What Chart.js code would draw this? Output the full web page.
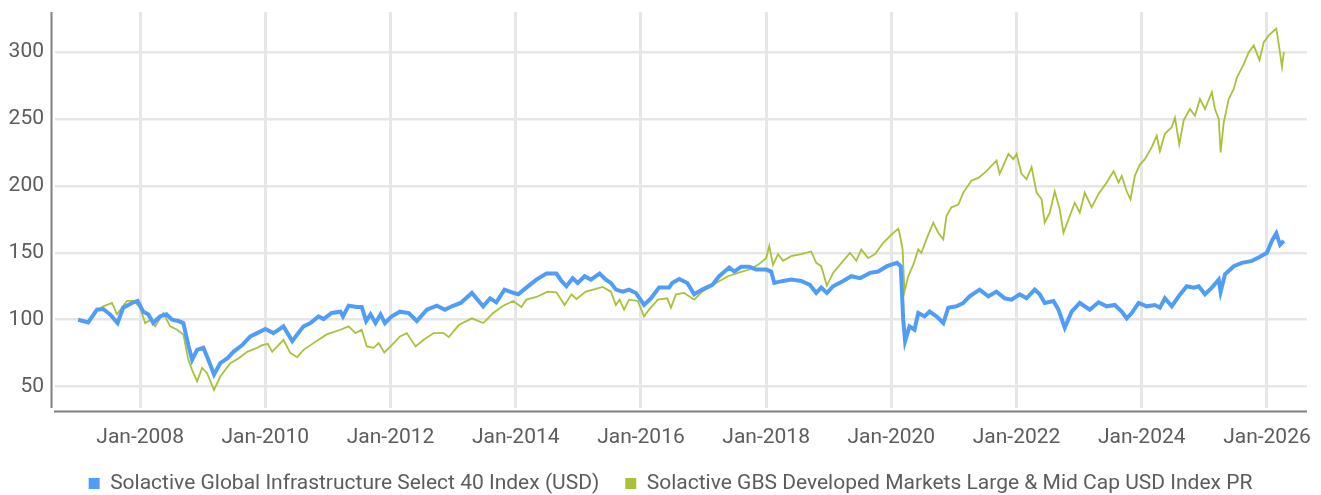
<!DOCTYPE html>
<html>
<head>
<meta charset="utf-8">
<script src="https://cdn.jsdelivr.net/npm/chart.js@4.4.1/dist/chart.umd.min.js"></script>
<style>
  html, body { margin: 0; padding: 0; background: #ffffff; }
  #wrap { width: 1321px; height: 495px; position: relative; }
</style>
</head>
<body>
<div id="wrap"><canvas id="indexChart"></canvas></div>
<script>
// series labels
const seriesNames = [
  'Solactive Global Infrastructure Select 40 Index (USD)',
  'Solactive GBS Developed Markets Large & Mid Cap USD Index PR'
];

// axis ticks
const xTickYears = [2008, 2010, 2012, 2014, 2016, 2018, 2020, 2022, 2024, 2026];
const yTickValues = [50, 100, 150, 200, 250, 300];

// infrastructure index (decimal year, level)
const infraYears = [
  2007.01, 2007.17, 2007.31, 2007.41, 2007.52, 2007.64, 2007.73, 2007.87, 2007.96,
  2008.05, 2008.13, 2008.21, 2008.32, 2008.42, 2008.51, 2008.61, 2008.69, 2008.77, 2008.83, 2008.91,
  2009.01, 2009.09, 2009.18, 2009.28, 2009.39, 2009.49, 2009.63, 2009.76, 2009.87,
  2010.00, 2010.13, 2010.29, 2010.43, 2010.51, 2010.61, 2010.72, 2010.85, 2010.93,
  2011.06, 2011.20, 2011.24, 2011.33, 2011.46, 2011.54, 2011.61, 2011.68, 2011.76, 2011.84, 2011.91,
  2012.02, 2012.15, 2012.29, 2012.42, 2012.58, 2012.74, 2012.87, 2012.98,
  2013.12, 2013.30, 2013.48, 2013.59, 2013.69, 2013.82, 2013.96,
  2014.04, 2014.17, 2014.33, 2014.49, 2014.65, 2014.73, 2014.81, 2014.91, 2014.99,
  2015.10, 2015.20, 2015.34, 2015.44, 2015.52, 2015.60, 2015.71, 2015.81, 2015.92,
  2016.05, 2016.16, 2016.29, 2016.45, 2016.50, 2016.61, 2016.74, 2016.85, 2016.98,
  2017.14, 2017.25, 2017.41, 2017.49, 2017.60, 2017.73, 2017.84,
  2018.00, 2018.08, 2018.13, 2018.27, 2018.40, 2018.56, 2018.70, 2018.80, 2018.88, 2018.97,
  2019.07, 2019.23, 2019.36, 2019.50, 2019.66, 2019.79, 2019.93,
  2020.09, 2020.15, 2020.19, 2020.22, 2020.29, 2020.37, 2020.43, 2020.53, 2020.61, 2020.72, 2020.83, 2020.91,
  2021.04, 2021.15, 2021.25, 2021.41, 2021.55, 2021.68, 2021.81, 2021.92,
  2022.05, 2022.16, 2022.29, 2022.37, 2022.45, 2022.59, 2022.67, 2022.77, 2022.88,
  2023.01, 2023.17, 2023.31, 2023.44, 2023.57, 2023.68, 2023.76, 2023.84, 2023.95,
  2024.08, 2024.21, 2024.29, 2024.37, 2024.48, 2024.59, 2024.72, 2024.83, 2024.91,
  2025.01, 2025.12, 2025.23, 2025.26, 2025.33, 2025.47, 2025.60, 2025.76, 2025.89,
  2026.00, 2026.08, 2026.15, 2026.21, 2026.27
];
const infraValues = [
  100, 98, 107.5, 108, 104, 97.5, 109, 112.5, 114,
  106, 104, 97.5, 102.5, 104, 100, 99, 97.5, 81, 70, 77.5,
  79, 70, 59, 67.5, 71, 76, 81, 87.5, 90,
  93, 90, 95, 84, 89, 95, 97.5, 102.5, 100.5,
  105, 106, 102.5, 110.5, 109.5, 109.5, 99, 104, 97.5, 104, 97.5,
  102.5, 106, 105, 99, 107.5, 110.5, 107.5, 110,
  112.5, 120, 110, 116, 113, 122.5, 120,
  119, 124, 130, 134.5, 134.5, 129, 125, 131, 127.5,
  132.5, 130, 134.5, 130, 127.5, 122.5, 121, 122.5, 120,
  111, 116, 124, 124, 127.5, 130.5, 127.5, 119, 122.5,
  126, 132.5, 139, 136, 139.5, 139.5, 137.5,
  137.5, 136, 127.5, 129, 130, 129, 126, 120, 124, 120,
  125, 129, 132.5, 131, 135, 136, 140,
  142.5, 140, 100, 84, 95, 92.5, 105, 102.5, 106, 102.5, 97.5, 109,
  110, 112.5, 117.5, 122.5, 117.5, 121, 116, 115,
  119, 116, 122.5, 119, 112.5, 114, 107.5, 94, 106,
  112.5, 107.5, 113, 110, 111, 106, 101, 105, 112.5,
  110, 111, 109, 116, 110, 117.5, 125, 124, 125,
  119, 124, 130, 121, 134, 140, 142.5, 144, 147,
  150, 159, 164.5, 156, 159
];

// developed markets index (decimal year, level)
const dmYears = [
  2007.01, 2007.17, 2007.31, 2007.41, 2007.55, 2007.63, 2007.79, 2007.90,
  2008.00, 2008.08, 2008.17, 2008.24, 2008.37, 2008.48, 2008.59, 2008.69, 2008.77, 2008.83, 2008.91, 2008.99,
  2009.07, 2009.18, 2009.28, 2009.44, 2009.57, 2009.71, 2009.87, 2009.95,
  2010.04, 2010.11, 2010.29, 2010.40, 2010.51, 2010.61, 2010.72, 2010.85, 2010.98,
  2011.20, 2011.33, 2011.44, 2011.54, 2011.62, 2011.73, 2011.81, 2011.90,
  2012.02, 2012.15, 2012.26, 2012.40, 2012.53, 2012.69, 2012.85, 2012.93,
  2013.09, 2013.30, 2013.48, 2013.64, 2013.80, 2013.96,
  2014.09, 2014.17, 2014.33, 2014.51, 2014.65, 2014.78, 2014.89, 2014.97,
  2015.12, 2015.28, 2015.39, 2015.52, 2015.60, 2015.66, 2015.73, 2015.81, 2015.95,
  2016.05, 2016.13, 2016.27, 2016.42, 2016.48, 2016.56, 2016.69, 2016.85, 2016.98,
  2017.20, 2017.39, 2017.55, 2017.73, 2017.87,
  2018.00, 2018.05, 2018.11, 2018.19, 2018.27, 2018.40, 2018.56, 2018.72, 2018.80, 2018.88, 2018.97,
  2019.07, 2019.23, 2019.34, 2019.44, 2019.52, 2019.63, 2019.74, 2019.87,
  2020.01, 2020.11, 2020.13, 2020.18, 2020.21, 2020.27, 2020.35, 2020.43, 2020.48, 2020.56, 2020.67, 2020.75, 2020.83, 2020.88, 2020.96,
  2021.07, 2021.15, 2021.28, 2021.39, 2021.52, 2021.68, 2021.73, 2021.87, 2021.95,
  2022.00, 2022.08, 2022.16, 2022.24, 2022.32, 2022.40, 2022.45, 2022.53, 2022.61, 2022.69, 2022.75, 2022.85, 2022.93,
  2023.01, 2023.09, 2023.20, 2023.31, 2023.44, 2023.55, 2023.63, 2023.68, 2023.76, 2023.82, 2023.89, 2023.97,
  2024.05, 2024.16, 2024.24, 2024.29, 2024.37, 2024.48, 2024.53, 2024.60, 2024.67, 2024.77, 2024.85, 2024.93,
  2025.01, 2025.12, 2025.17, 2025.23, 2025.26, 2025.31, 2025.39, 2025.47, 2025.52, 2025.63, 2025.71, 2025.79, 2025.88, 2025.95,
  2026.03, 2026.11, 2026.15, 2026.20, 2026.24, 2026.27
];
const dmValues = [
  100, 99, 107, 110, 112.5, 104, 114, 114,
  109, 97.5, 100, 95, 105, 95, 92.5, 89, 70, 62.5, 54, 64,
  60, 47.5, 57.5, 67.5, 71, 76, 79, 81,
  82, 76, 85, 75, 72, 77.5, 81, 85, 89,
  92.5, 95, 90, 92.5, 80, 79, 82.5, 75.5,
  81, 87.5, 90, 80, 85, 90, 90, 87,
  96, 101, 97.5, 105, 110.5, 114,
  109.5, 115, 117, 121, 120.5, 111, 119, 115.5,
  121, 123, 124.5, 121, 111, 115, 107.5, 115, 114,
  102.5, 107.5, 115, 116, 109, 119, 120, 115, 121,
  127.5, 132.5, 135, 137.5, 141,
  146, 155, 141, 149, 144, 147.5, 149, 151, 142.5, 140, 125.5,
  135, 144, 150, 144, 152.5, 146, 149, 157.5,
  164, 168, 165, 152.5, 121, 132.5, 141, 152.5, 150, 160, 172.5, 165, 160, 177.5, 184,
  186, 195, 204, 206, 211, 219, 209, 224, 220,
  224, 209, 205, 214, 195, 190, 172.5, 180, 196, 182.5, 165, 177.5, 187.5,
  180, 195, 184, 194, 202.5, 211, 202.5, 207.5, 196, 190, 207.5, 216,
  220, 229, 237.5, 226, 239, 244, 251, 231, 249, 257.5, 252.5, 265,
  257.5, 270, 257.5, 250, 225, 247.5, 265, 272.5, 281, 291, 300, 305, 294, 307.5,
  312.5, 316, 317.5, 302.5, 289, 300
];

const toPoints = (xs, ys) => xs.map((x, i) => ({ x: x, y: ys[i] }));

// axis lines sit a few px off the plot area, and the legend row is tucked lower
const layoutTweaks = {
  id: 'layoutTweaks',
  afterInit(chart) {
    const legend = chart.legend;
    if (legend) {
      const fit = legend.fit;
      legend.fit = function () {
        fit.call(this);
        this.height = 32;
      };
    }
  },
  afterLayout(chart) {
    const legend = chart.legend;
    if (legend) {
      legend.top -= 11;
      legend.bottom = chart.height;
      legend.height = legend.bottom - legend.top;
      legend.left += 17;
      legend.right += 17;
    }
  },
  beforeDatasetsDraw(chart) {
    const { ctx, chartArea } = chart;
    ctx.save();
    ctx.strokeStyle = '#808080';
    ctx.lineWidth = 2;
    ctx.beginPath();
    ctx.moveTo(chartArea.left - 3.5, chartArea.top);
    ctx.lineTo(chartArea.left - 3.5, chartArea.bottom);
    ctx.moveTo(chartArea.left - 1, chartArea.bottom + 3.5);
    ctx.lineTo(chartArea.right, chartArea.bottom + 3.5);
    ctx.stroke();
    ctx.restore();
  }
};

const fontFamily = 'Roboto, "Noto Sans", sans-serif';
const textColor = '#5c5c5c';

const ctx = document.getElementById('indexChart').getContext('2d');
new Chart(ctx, {
  type: 'line',
  data: {
    datasets: [{
      label: seriesNames[0],
      data: toPoints(infraYears, infraValues),
      borderColor: '#4f9df6',
      backgroundColor: '#4f9df6',
      borderWidth: 4,
      pointRadius: 0,
      tension: 0
    }, {
      label: seriesNames[1],
      data: toPoints(dmYears, dmValues),
      borderColor: '#a8c23c',
      backgroundColor: '#a8c23c',
      borderWidth: 1.8,
      pointRadius: 0,
      tension: 0
    }]
  },
  options: {
    responsive: true,
    maintainAspectRatio: false,
    animation: false,
    layout: { padding: { top: 12, right: 14, left: 0, bottom: 5 } },
    scales: {
      x: {
        type: 'linear',
        min: 2006.64,
        max: 2026.64,
        afterBuildTicks: (axis) => { axis.ticks = xTickYears.map(v => ({ value: v })); },
        afterFit: (scale) => {
          scale.height = 50;
          scale.paddingLeft = 0;
          scale.paddingRight = 0;
        },
        grid: { color: '#e6e6e6', lineWidth: 3, drawTicks: false },
        border: { display: false },
        ticks: {
          callback: (v) => 'Jan-' + v,
          color: textColor,
          font: { family: fontFamily, size: 21 },
          padding: 17,
          maxRotation: 0,
          autoSkip: false
        }
      },
      y: {
        min: 34,
        max: 330,
        afterBuildTicks: (axis) => { axis.ticks = yTickValues.map(v => ({ value: v })); },
        afterFit: (scale) => {
          scale.width = 55;
          scale.paddingTop = 0;
          scale.paddingBottom = 0;
        },
        grid: { color: '#e6e6e6', lineWidth: 2.5, drawTicks: false },
        border: { display: false },
        ticks: {
          color: textColor,
          font: { family: fontFamily, size: 21 },
          padding: 11
        }
      }
    },
    plugins: {
      legend: {
        position: 'bottom',
        labels: {
          boxWidth: 11,
          boxHeight: 11,
          padding: 26,
          color: textColor,
          font: { family: fontFamily, size: 21 },
          generateLabels: (chart) => Chart.defaults.plugins.legend.labels.generateLabels(chart)
            .map(item => Object.assign(item, { lineWidth: 0 }))
        }
      },
      tooltip: { enabled: false }
    }
  },
  plugins: [layoutTweaks]
});
</script>
</body>
</html>
